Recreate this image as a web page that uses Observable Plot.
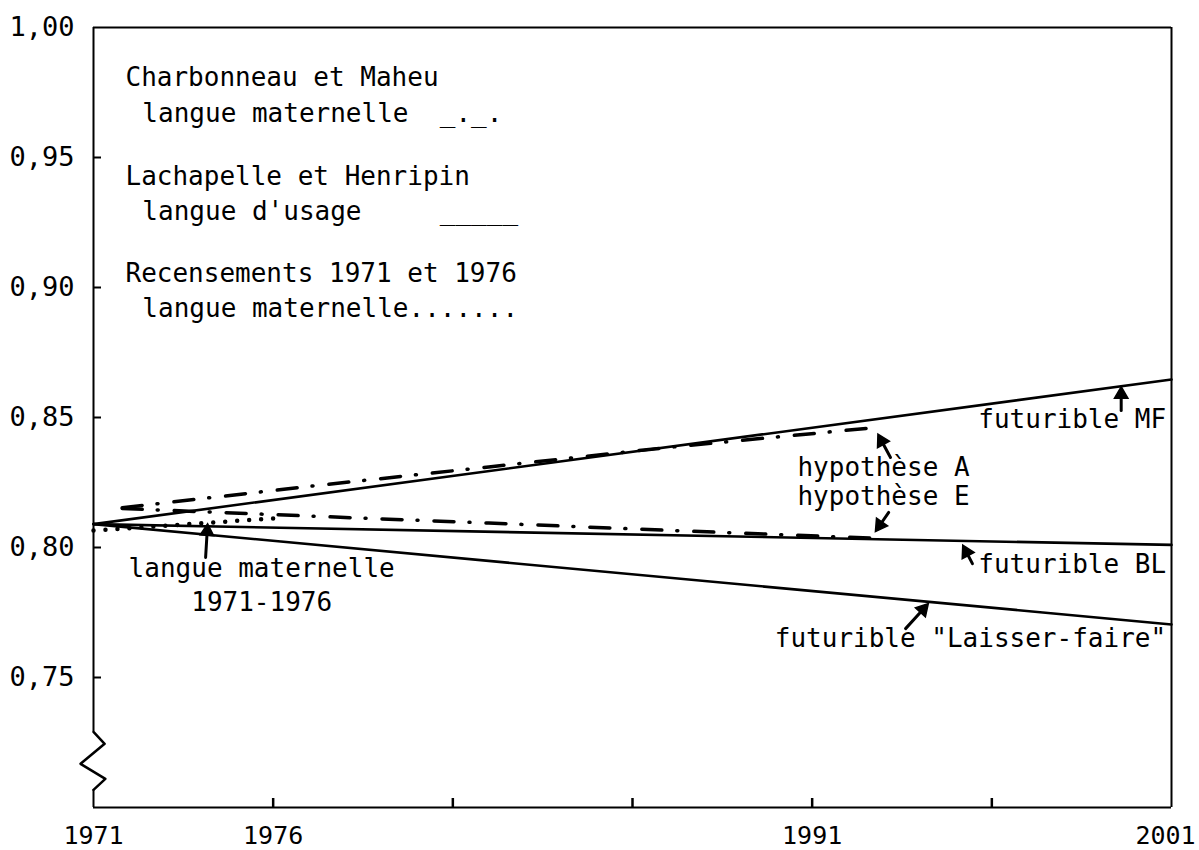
<!DOCTYPE html>
<html><head><meta charset="utf-8">
<script src="https://cdn.jsdelivr.net/npm/d3@7"></script>
<script src="https://cdn.jsdelivr.net/npm/@observablehq/plot@0.6"></script>
<style>body{margin:0;background:#fff}</style>
</head><body><div id="chart"></div>
<script>
// ---- data ----
const futuribleYears = [1971, 2001];
const futuribleMF = [0.809, 0.8646];
const futuribleBL = [0.809, 0.801];
const futuribleLF = [0.809, 0.7704];
const hypYears = [1971.8, 1977, 1982, 1987, 1992.8];
const hypA = [0.8153, 0.8235, 0.8310, 0.8385, 0.8462];
const hypE = [0.8150, 0.8121, 0.8094, 0.8066, 0.8035];
const censusYears = [1971, 1976];
const census = [0.8065, 0.8112];
const yTickValues = [0.75, 0.80, 0.85, 0.90, 0.95, 1.00];
const yTickMarks = [0.75, 0.80, 0.85, 0.90, 0.95];
const xTickLabels = [1971, 1976, 1991];
const xTickLabelEnd = [2001];
const xTickMarks = [1976, 1981, 1986, 1991, 1996];

// annotations (data coordinates)
const legendText = [
  {t: 1971.89, v: 0.9807, s: "Charbonneau et Maheu"},
  {t: 1972.36, v: 0.9668, s: "langue maternelle  _._."},
  {t: 1971.89, v: 0.9425, s: "Lachapelle et Henripin"},
  {t: 1972.36, v: 0.9290, s: "langue d'usage     _____"},
  {t: 1971.89, v: 0.9052, s: "Recensements 1971 et 1976"},
  {t: 1972.36, v: 0.8917, s: "langue maternelle......."}
];
const centerText = [
  {t: 1975.68, v: 0.7919, s: "langue maternelle"},
  {t: 1975.68, v: 0.7788, s: "1971-1976"}
];
const leftText = [
  {t: 1990.59, v: 0.8308, s: "hypothèse A"},
  {t: 1990.59, v: 0.8196, s: "hypothèse E"}
];
const rightText = [
  {t: 2000.85, v: 0.8490, s: "futurible MF"},
  {t: 2000.85, v: 0.7935, s: "futurible BL"},
  {t: 2000.85, v: 0.7650, s: "futurible \"Laisser-faire\""}
];
const arrows = [
  {t1: 1974.12, v1: 0.7962, t2: 1974.17, v2: 0.8077},
  {t1: 1999.60, v1: 0.8527, t2: 1999.60, v2: 0.8604},
  {t1: 1993.18, v1: 0.8346, t2: 1992.88, v2: 0.8423},
  {t1: 1993.13, v1: 0.8135, t2: 1992.82, v2: 0.8073},
  {t1: 1995.46, v1: 0.7938, t2: 1995.24, v2: 0.7996},
  {t1: 1993.60, v1: 0.7688, t2: 1994.16, v2: 0.7773}
];
const axisBreak = [[1971, 0.7291], [1971.31, 0.7245], [1970.64, 0.7168], [1971.33, 0.7110], [1971, 0.7068]];

const W = 1199, H = 850, ML = 93, MR = 28, MT = 27, MB = 43;
const xDomain = [1971, 2001], yDomain = [0.70, 1.00];
const sx = (W - ML - MR) / (xDomain[1] - xDomain[0]);
const sy = (H - MT - MB) / (yDomain[1] - yDomain[0]);

const rows = (xs, ys) => xs.map((t, i) => ({t, v: ys[i]}));
const font = "'DejaVu Sans Mono', monospace";
const fmt = d => d.toFixed(2).replace(".", ",");

// arrowheads: filled triangles placed just behind each tip, rotated along the shaft
const heads = arrows.map(a => {
  const dx = (a.t2 - a.t1) * sx, dy = -(a.v2 - a.v1) * sy;
  const len = Math.hypot(dx, dy);
  const ux = dx / len, uy = dy / len;
  const back = 4;
  return {
    t: a.t2 - (ux * back) / sx,
    v: a.v2 + (uy * back) / sy,
    rot: Math.atan2(dx, -dy) * 180 / Math.PI
  };
});

const chart = Plot.plot({
  width: W,
  height: H,
  marginLeft: ML,
  marginRight: MR,
  marginTop: MT,
  marginBottom: MB,
  style: {background: "white", color: "black", fontFamily: font},
  x: {domain: xDomain},
  y: {domain: yDomain},
  marks: [
    // frame
    Plot.ruleY([0.70, 1.00], {stroke: "black", strokeWidth: 2}),
    Plot.ruleX([2001], {stroke: "black", strokeWidth: 2}),
    Plot.ruleX([1971], {y1: 0.7291, y2: 1.0, stroke: "black", strokeWidth: 2}),
    Plot.ruleX([1971], {y1: 0.70, y2: 0.7068, stroke: "black", strokeWidth: 2}),
    Plot.line(axisBreak, {x: d => d[0], y: d => d[1], stroke: "black", strokeWidth: 2.5}),
    // axes
    Plot.axisY({ticks: yTickMarks, tickSize: -8, tickFormat: () => "", label: null, strokeWidth: 2}),
    Plot.axisY({ticks: yTickValues, tickSize: 0, tickPadding: 19, tickFormat: fmt, label: null, fontSize: 27, fontFamily: font, fill: "black"}),
    Plot.axisX({ticks: xTickMarks, tickSize: -9, tickFormat: () => "", label: null, strokeWidth: 2.5}),
    Plot.axisX({ticks: xTickLabels, tickSize: 0, tickPadding: 19, tickFormat: d => String(d), label: null, fontSize: 25, fontFamily: font, fill: "black"}),
    Plot.axisX({ticks: xTickLabelEnd, tickSize: 0, tickPadding: 19, dx: -6, tickFormat: d => String(d), label: null, fontSize: 25, fontFamily: font, fill: "black"}),
    // futuribles (solid)
    Plot.line(rows(futuribleYears, futuribleMF), {x: "t", y: "v", stroke: "black", strokeWidth: 2.6}),
    Plot.line(rows(futuribleYears, futuribleBL), {x: "t", y: "v", stroke: "black", strokeWidth: 2.6}),
    Plot.line(rows(futuribleYears, futuribleLF), {x: "t", y: "v", stroke: "black", strokeWidth: 2.6}),
    // hypotheses (dash-dot)
    Plot.line(rows(hypYears, hypA), {x: "t", y: "v", stroke: "black", strokeWidth: 3.5, strokeDasharray: "20,15,1,16", strokeLinecap: "round"}),
    Plot.line(rows(hypYears, hypE), {x: "t", y: "v", stroke: "black", strokeWidth: 3.5, strokeDasharray: "20,15,1,16", strokeLinecap: "round"}),
    // census (dotted)
    Plot.line(rows(censusYears, census), {x: "t", y: "v", stroke: "black", strokeWidth: 4.5, strokeDasharray: "0,12", strokeLinecap: "round"}),
    // arrows
    Plot.link(arrows, {x1: "t1", y1: "v1", x2: "t2", y2: "v2", stroke: "black", strokeWidth: 3, strokeLinecap: "round"}),
    Plot.dot(heads, {x: "t", y: "v", symbol: "triangle", r: 5, fill: "black", stroke: "black", strokeWidth: 1.5, rotate: "rot"}),
    // texts
    Plot.text(legendText, {x: "t", y: "v", text: "s", textAnchor: "start", fontSize: 26, fontFamily: font, fill: "black"}),
    Plot.text(centerText, {x: "t", y: "v", text: "s", textAnchor: "middle", fontSize: 26, fontFamily: font, fill: "black"}),
    Plot.text(leftText, {x: "t", y: "v", text: "s", textAnchor: "start", fontSize: 26, fontFamily: font, fill: "black"}),
    Plot.text(rightText, {x: "t", y: "v", text: "s", textAnchor: "end", fontSize: 26, fontFamily: font, fill: "black"})
  ]
});
document.getElementById("chart").appendChild(chart);
</script>
</body></html>
